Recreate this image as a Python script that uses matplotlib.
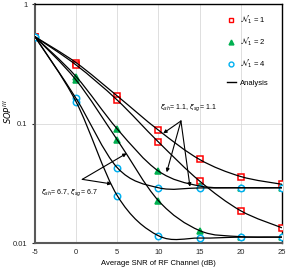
import numpy as np
import matplotlib
matplotlib.use('Agg')
import matplotlib.pyplot as plt
from matplotlib.path import Path
from matplotlib.patches import PathPatch
from matplotlib.lines import Line2D

plt.rcParams['font.family'] = ['Liberation Sans', 'DejaVu Sans']
plt.rcParams['mathtext.fontset'] = 'dejavusans'

# values
snr = [-5, 0, 5, 10, 15, 20, 25]
red_xi11 = [0.533, 0.323, 0.170, 0.088, 0.050, 0.036, 0.031]
red_xi67 = [0.533, 0.309, 0.157, 0.070, 0.033, 0.0186, 0.0134]
green_xi11 = [0.533, 0.247, 0.090, 0.040, 0.030, 0.029, 0.029]
green_xi67 = [0.533, 0.231, 0.073, 0.0226, 0.0127, 0.0113, 0.0112]
blue_xi11 = [0.533, 0.162, 0.0427, 0.029, 0.0289, 0.029, 0.029]
blue_xi67 = [0.533, 0.152, 0.0249, 0.0115, 0.011, 0.0112, 0.0112]

legend_labels = [r'$\mathcal{N}_1$ = 1', r'$\mathcal{N}_1$ = 2',
                 r'$\mathcal{N}_1$ = 4', 'Analysis']
xticks = [-5, 0, 5, 10, 15, 20, 25]
yticks = [0.01, 0.1, 1]
ytick_labels = ['0.01', '0.1', '1']

RED = '#ff0000'
GREEN = '#00b050'
BLUE = '#00b0f0'


def smooth_path(x, y):
    # excel-like smoothed line: cardinal bezier built in (x, log y) space
    lx = np.asarray(x, float)
    ly = np.log10(np.asarray(y, float))
    n = len(lx)
    verts = [(lx[0], ly[0])]
    codes = [Path.MOVETO]
    for i in range(n - 1):
        p0 = np.array([lx[max(i - 1, 0)], ly[max(i - 1, 0)]])
        p1 = np.array([lx[i], ly[i]])
        p2 = np.array([lx[i + 1], ly[i + 1]])
        p3 = np.array([lx[min(i + 2, n - 1)], ly[min(i + 2, n - 1)]])
        c1 = p1 + (p2 - p0) / 6.0
        c2 = p2 - (p3 - p1) / 6.0
        verts += [tuple(c1), tuple(c2), tuple(p2)]
        codes += [Path.CURVE4] * 3
    verts = [(vx, 10 ** vy) for vx, vy in verts]
    return Path(verts, codes)


fig, ax = plt.subplots(figsize=(2.91, 2.70), dpi=100)
fig.subplots_adjust(left=0.120, right=0.969, top=0.985, bottom=0.100)

series = [
    (red_xi11, RED, 's', 'white'),
    (red_xi67, RED, 's', 'white'),
    (green_xi11, GREEN, '^', GREEN),
    (green_xi67, GREEN, '^', GREEN),
    (blue_xi11, BLUE, 'o', 'white'),
    (blue_xi67, BLUE, 'o', 'white'),
]
for vals, col, mk, fc in series:
    ax.plot(snr, vals, linestyle='none', marker=mk, markersize=4.6,
            markeredgewidth=1.1, markeredgecolor=col, markerfacecolor=fc,
            zorder=3)
    ax.add_patch(PathPatch(smooth_path(snr, vals), facecolor='none',
                           edgecolor='black', lw=0.9, zorder=4))

ax.set_yscale('log')
ax.set_xlim(-5, 25)
ax.set_ylim(0.01, 1)
ax.set_xticks(xticks)
ax.set_xticklabels([str(t) for t in xticks])
ax.set_yticks(yticks)
ax.set_yticklabels(ytick_labels)
ax.yaxis.set_minor_locator(matplotlib.ticker.NullLocator())
ax.tick_params(labelsize=5.5, length=2, width=0.8, colors='#262626')
ax.tick_params(axis='x', length=0, pad=4)
ax.grid(True, which='major', color='#d9d9d9', lw=0.6)
ax.set_axisbelow(True)

for side in ['top', 'right']:
    ax.spines[side].set_color('black')
    ax.spines[side].set_linewidth(1.0)
for side in ['left', 'bottom']:
    ax.spines[side].set_color('#595959')
    ax.spines[side].set_linewidth(1.5)

ax.set_xlabel('Average SNR of RF Channel (dB)', fontsize=5.5, labelpad=3)
ax.set_ylabel(r'$\mathit{SOP}^{III}$', fontsize=6, labelpad=2)
ax.yaxis.set_label_coords(-0.085, 0.55)

# annotations
arrow = dict(arrowstyle='-|>', color='black', lw=0.8, mutation_scale=5,
             shrinkA=0, shrinkB=0)
origin11 = (12.73, 0.105)
for target in [(10.58, 0.0828), (11.0, 0.0391), (13.83, 0.0296)]:
    ax.annotate('', xy=target, xytext=origin11, arrowprops=arrow, zorder=5)
ax.text(13.6, 0.135, r'$\xi_{sh}$= 1.1, $\xi_{sg}$= 1.1', fontsize=5,
        ha='center', va='center')

origin67 = (0.75, 0.0341)
for target in [(6.14, 0.0563), (4.32, 0.0312)]:
    ax.annotate('', xy=target, xytext=origin67, arrowprops=arrow, zorder=5)
ax.text(-0.87, 0.0262, r'$\xi_{sh}$= 6.7, $\xi_{sg}$= 6.7', fontsize=5,
        ha='center', va='center')

handles = [
    Line2D([], [], linestyle='none', marker='s', markersize=3.5,
           markeredgewidth=1, markeredgecolor=RED, markerfacecolor='white'),
    Line2D([], [], linestyle='none', marker='^', markersize=3.5,
           markeredgewidth=1, markeredgecolor=GREEN, markerfacecolor=GREEN),
    Line2D([], [], linestyle='none', marker='o', markersize=3.5,
           markeredgewidth=1, markeredgecolor=BLUE, markerfacecolor='white'),
    Line2D([], [], color='black', lw=1.0),
]
ax.legend(handles, legend_labels, loc='upper right', frameon=False,
          fontsize=5.5, labelspacing=1.25, handlelength=1.2,
          handletextpad=0.6, borderaxespad=0.8, bbox_to_anchor=(0.985, 1.0))

fig.savefig('out.png', dpi=100)
